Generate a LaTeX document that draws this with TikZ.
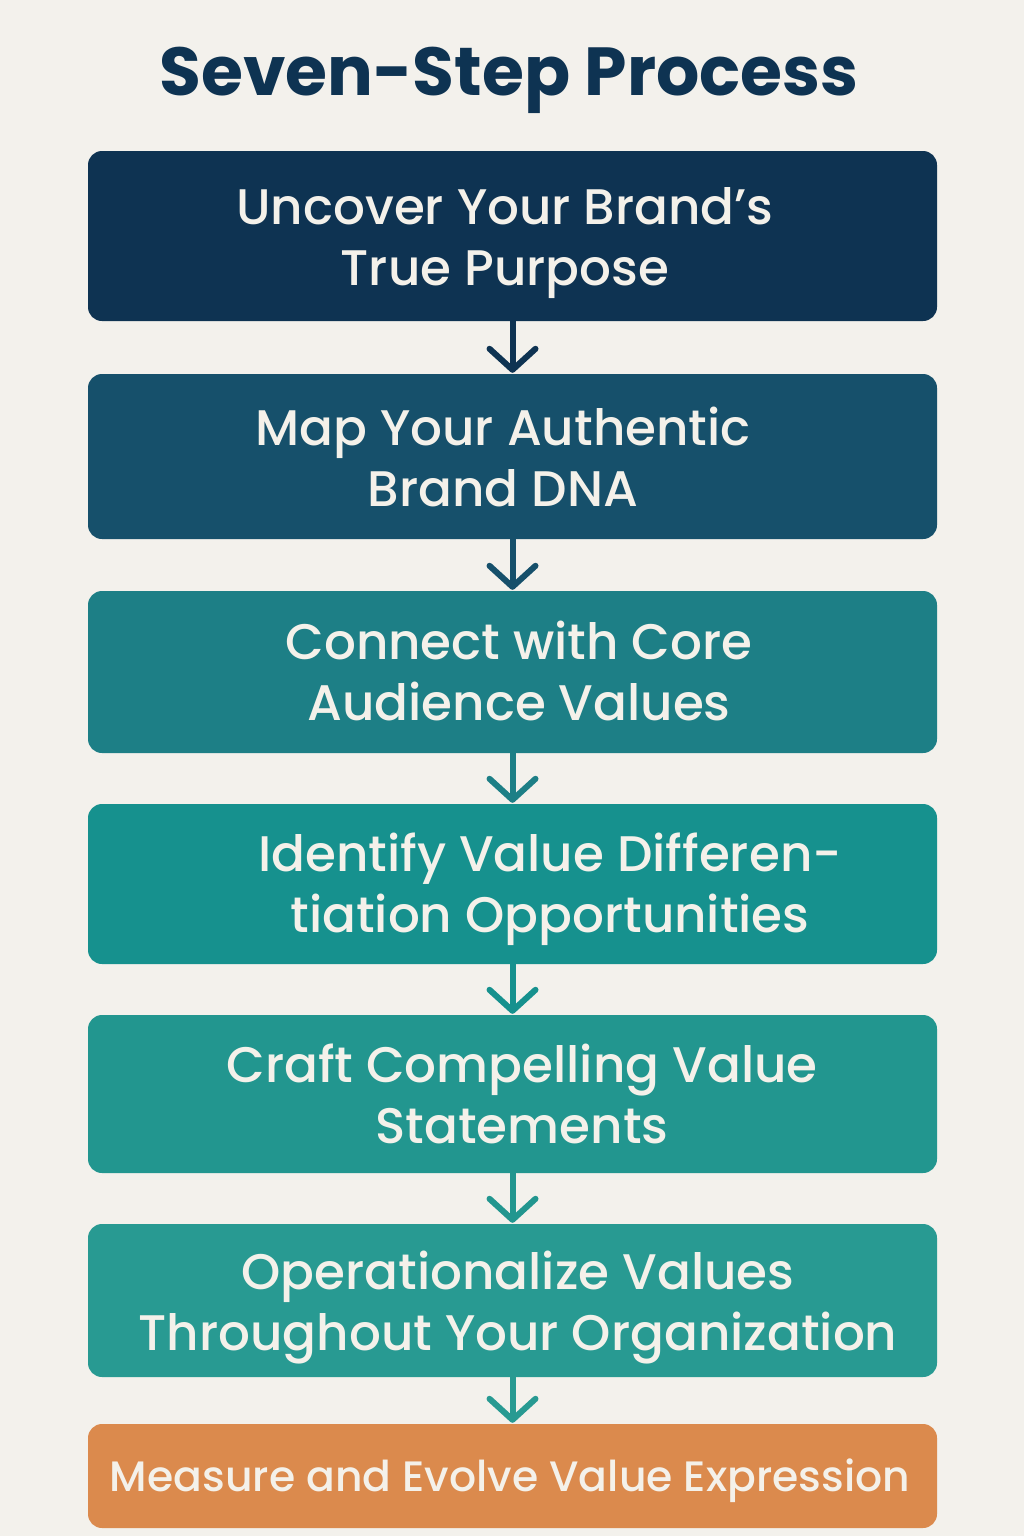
\documentclass[tikz,border=0pt]{standalone}
\usepackage{fontspec}
\setmainfont{Poppins}
\newfontfamily\stepfont{Poppins Medium}
\newfontfamily\titlefont{Poppins Bold}
\usepackage{tikz}
\usetikzlibrary{arrows.meta}

\definecolor{paper}{HTML}{F3F1EC}
\definecolor{ink}{HTML}{F4F1EA}
\definecolor{navyA}{HTML}{0E3352}
\definecolor{navyB}{HTML}{16506B}
\definecolor{tealA}{HTML}{1D7F86}
\definecolor{tealB}{HTML}{16918E}
\definecolor{tealC}{HTML}{22968F}
\definecolor{tealD}{HTML}{289A92}
\definecolor{orangeA}{HTML}{DB8A4D}

\begin{document}
\begin{tikzpicture}[x=1pt, y=-1pt,
    stepbox/.style={rounded corners=14pt, minimum width=849pt, inner sep=0pt, text=ink},
    steptext/.style={text=ink, align=center, font=\stepfont\fontsize{50}{61}\selectfont},
    flow/.style={line width=6pt, -{Straight Barb[length=21pt, width=46pt, line cap=round, line join=round]}, shorten >=1pt}]
        \fill[paper] (0, 0) rectangle (1024, 1536);
        \useasboundingbox (0, 0) rectangle (1024, 1536);
        %%%
        \node[text=navyA, font=\titlefont\fontsize{68}{80}\selectfont] (title) at (509, 80) {Seven-Step Process};
        %%%
        \node[stepbox, fill=navyA, minimum height=170pt] (step1) at (512.5, 236) {};
        \node[stepbox, fill=navyB, minimum height=165pt] (step2) at (512.5, 456.5) {};
        \node[stepbox, fill=tealA, minimum height=162pt] (step3) at (512.5, 672) {};
        \node[stepbox, fill=tealB, minimum height=160pt] (step4) at (512.5, 884) {};
        \node[stepbox, fill=tealC, minimum height=158pt] (step5) at (512.5, 1094) {};
        \node[stepbox, fill=tealD, minimum height=153pt] (step6) at (512.5, 1300.5) {};
        \node[stepbox, fill=orangeA, minimum height=104pt] (step7) at (512.5, 1476) {};
        %%%
        \node[steptext] (text1) at (505, 243) {Uncover Your Brand’s\\True Purpose};
        \node[steptext] (text2) at (503, 457) {Map Your Authentic\\Brand DNA};
        \node[steptext] (text3) at (519, 671) {Connect with Core\\Audience Values};
        \node[steptext] (text4) at (550, 889) {Identify Value Differen-\\tiation Opportunities};
        \node[steptext] (text5) at (522, 1094) {Craft Compelling Value\\Statements};
        \node[steptext] (text6) at (518, 1308) {Operationalize Values\\Throughout Your Organization};
        \node[steptext, font=\stepfont\fontsize{42.5}{50}\selectfont] (text7) at (510, 1481) {Measure and Evolve Value Expression};
        %%%
        \draw[flow, navyA] (step1.south) -- (step2.north);
        \draw[flow, navyB] (step2.south) -- (step3.north);
        \draw[flow, tealA] (step3.south) -- (step4.north);
        \draw[flow, tealB] (step4.south) -- (step5.north);
        \draw[flow, tealC] (step5.south) -- (step6.north);
        \draw[flow, tealD] (step6.south) -- (step7.north);
\end{tikzpicture}
\end{document}
